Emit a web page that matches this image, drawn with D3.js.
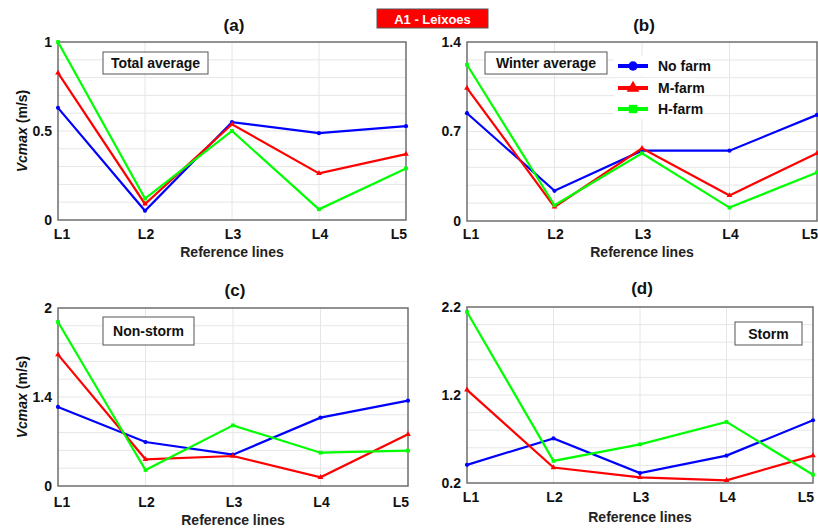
<!DOCTYPE html>
<html>
<head>
<meta charset="utf-8">
<script src="https://cdn.jsdelivr.net/npm/d3@7"></script>
<style>
  body { margin: 0; background: #fff; }
  svg { font-family: Arial, "Liberation Sans", sans-serif; font-weight: bold; }
</style>
</head>
<body>
<div id="chart"></div>
<script>
// Plot constants
const WIDTH = 818;
const HEIGHT = 529;

// Data
const refLines = ["L1", "L2", "L3", "L4", "L5"];
const seriesNames = ["No farm", "M-farm", "H-farm"];
const seriesColors = ["#0000ff", "#ff0000", "#00ff00"];

// (a) total average
const noFarmA = [0.63, 0.052, 0.55, 0.488, 0.527];
const mFarmA = [0.826, 0.09, 0.538, 0.262, 0.37];
const hFarmA = [1.0, 0.12, 0.5, 0.06, 0.29];
// (b) winter average
const noFarmB = [0.843, 0.236, 0.55, 0.55, 0.83];
const mFarmB = [1.04, 0.11, 0.568, 0.2, 0.53];
const hFarmB = [1.222, 0.123, 0.53, 0.105, 0.38];
// (c) non-storm
const noFarmC = [1.243, 0.692, 0.493, 1.075, 1.342];
const mFarmC = [2.066, 0.42, 0.472, 0.136, 0.813];
const hFarmC = [2.58, 0.252, 0.954, 0.524, 0.556];
// (d) storm
const noFarmD = [0.406, 0.707, 0.313, 0.511, 0.913];
const mFarmD = [1.258, 0.376, 0.264, 0.23, 0.511];
const hFarmD = [2.144, 0.451, 0.639, 0.894, 0.294];

// y tick values and labels
const yTicksA = [0, 0.5, 1], yLabelsA = ["0", "0.5", "1"];
const yTicksB = [0, 0.7, 1.4], yLabelsB = ["0", "0.7", "1.4"];
const yTicksC = [0, 1.4, 2.8], yLabelsC = ["0", "1.4", "2"];
const yTicksD = [0.2, 1.2, 2.2], yLabelsD = ["0.2", "1.2", "2.2"];

// panel layout
const panels = [
  { tag: "(a)", note: "Total average", series: [noFarmA, mFarmA, hFarmA], ticks: yTicksA, labels: yLabelsA,
    x0: 58, x1: 406, y0: 42, y1: 220, yTitle: true, box: [103, 52, 105, 22], titleY: 31, xlabY: 239, xTitleY: 257 },
  { tag: "(b)", note: "Winter average", series: [noFarmB, mFarmB, hFarmB], ticks: yTicksB, labels: yLabelsB,
    x0: 467, x1: 817, y0: 42, y1: 221, yTitle: false, box: [485, 52, 122, 22], titleY: 31, xlabY: 239, xTitleY: 257, legend: true },
  { tag: "(c)", note: "Non-storm", series: [noFarmC, mFarmC, hFarmC], ticks: yTicksC, labels: yLabelsC,
    x0: 58, x1: 408, y0: 308, y1: 486, yTitle: true, box: [103, 317, 91, 28], titleY: 296, xlabY: 507, xTitleY: 525 },
  { tag: "(d)", note: "Storm", series: [noFarmD, mFarmD, hFarmD], ticks: yTicksD, labels: yLabelsD,
    x0: 467, x1: 813, y0: 307, y1: 483, yTitle: false, box: [735, 322, 67, 23], titleY: 294, xlabY: 502, xTitleY: 522 },
];

const svg = d3.select("#chart").append("svg")
  .attr("width", WIDTH)
  .attr("height", HEIGHT);

const markerShapes = [d3.symbolCircle, d3.symbolTriangle, d3.symbolSquare];

panels.forEach((p) => {
  const g = svg.append("g");
  const x = d3.scalePoint().domain(refLines).range([p.x0, p.x1]);
  const lo = p.ticks[0], hi = p.ticks[p.ticks.length - 1];
  const y = d3.scaleLinear().domain([lo, hi]).range([p.y1, p.y0]);

  // grid: 10 horizontal divisions + vertical at each reference line
  const gridVals = d3.range(1, 10).map((i) => lo + (hi - lo) * i / 10);
  g.selectAll(".hgrid").data(gridVals).enter().append("line")
    .attr("x1", p.x0).attr("x2", p.x1)
    .attr("y1", (d) => y(d)).attr("y2", (d) => y(d))
    .attr("stroke", "#e6e6e6").attr("stroke-width", 1);
  g.selectAll(".vgrid").data(refLines.slice(1, -1)).enter().append("line")
    .attr("x1", (d) => x(d)).attr("x2", (d) => x(d))
    .attr("y1", p.y0).attr("y2", p.y1)
    .attr("stroke", "#e6e6e6").attr("stroke-width", 1);

  // frame
  g.append("rect")
    .attr("x", p.x0).attr("y", p.y0)
    .attr("width", p.x1 - p.x0).attr("height", p.y1 - p.y0)
    .attr("fill", "none").attr("stroke", "#6e6e6e").attr("stroke-width", 1.5);

  // axes (text only, the frame draws the lines)
  const yAxis = d3.axisLeft(y).tickValues(p.ticks).tickSize(0).tickPadding(6)
    .tickFormat((d, i) => p.labels[i]);
  g.append("g").attr("transform", `translate(${p.x0},0)`).call(yAxis)
    .call((a) => a.select(".domain").remove())
    .selectAll("text").attr("font-size", 14).attr("font-weight", "bold").attr("fill", "#111")
    .attr("font-family", "Arial, 'Liberation Sans', sans-serif");

  // x labels: first one nudged right, last one kept inside the frame
  const last = refLines.length - 1;
  g.selectAll(".xlab").data(refLines).enter().append("text")
    .attr("x", (d, i) => i === 0 ? x(d) + 4 : i === last ? x(d) + 1 : x(d) + 1)
    .attr("y", p.xlabY)
    .attr("text-anchor", (d, i) => i === last ? "end" : "middle")
    .attr("font-size", 14).attr("fill", "#111")
    .text((d) => d);

  g.append("text")
    .attr("x", (p.x0 + p.x1) / 2).attr("y", p.xTitleY)
    .attr("text-anchor", "middle").attr("font-size", 14).attr("fill", "#222")
    .text("Reference lines");

  // panel tag
  g.append("text")
    .attr("x", (p.x0 + p.x1) / 2 + 2).attr("y", p.titleY)
    .attr("text-anchor", "middle").attr("font-size", 17).attr("fill", "#111")
    .text(p.tag);

  // y title
  if (p.yTitle) {
    const t = g.append("text")
      .attr("transform", `translate(27,${(p.y0 + p.y1) / 2}) rotate(-90)`)
      .attr("text-anchor", "middle").attr("font-size", 14).attr("fill", "#111");
    t.append("tspan").attr("font-style", "italic").text("Vcmax");
    t.append("tspan").text(" (m/s)");
  }

  // series lines
  const line = d3.line().x((d, i) => x(refLines[i])).y((d) => y(d));
  p.series.forEach((vals, s) => {
    g.append("path").datum(vals)
      .attr("d", line)
      .attr("fill", "none")
      .attr("stroke", seriesColors[s])
      .attr("stroke-width", 2.2);
    g.selectAll(".m" + s).data(vals).enter().append("path")
      .attr("transform", (d, i) => `translate(${x(refLines[i])},${y(d)})`)
      .attr("d", d3.symbol().type(markerShapes[s]).size(14))
      .attr("fill", seriesColors[s]);
  });

  // note box
  const [bx, by, bw, bh] = p.box;
  g.append("rect").attr("x", bx).attr("y", by).attr("width", bw).attr("height", bh)
    .attr("fill", "#fff").attr("stroke", "#555").attr("stroke-width", 1);
  g.append("text").attr("x", bx + bw / 2).attr("y", by + bh / 2 + 5)
    .attr("text-anchor", "middle").attr("font-size", 14).attr("fill", "#111")
    .text(p.note);

  // legend
  if (p.legend) {
    const lg = g.append("g");
    const rowY = [66, 88, 109];
    seriesNames.forEach((name, s) => {
      lg.append("rect").attr("x", 614).attr("y", rowY[s] - 10).attr("width", 82).attr("height", 20).attr("fill", "#fff");
      lg.append("line").attr("x1", 618).attr("x2", 648).attr("y1", rowY[s]).attr("y2", rowY[s])
        .attr("stroke", seriesColors[s]).attr("stroke-width", 4);
      lg.append("path").attr("transform", `translate(633,${rowY[s]})`)
        .attr("d", d3.symbol().type(markerShapes[s]).size(70))
        .attr("fill", seriesColors[s]);
      lg.append("text").attr("x", 658).attr("y", rowY[s] + 5)
        .attr("font-size", 14).attr("fill", "#111").text(name);
    });
  }
});

// site label
svg.append("rect").attr("x", 377).attr("y", 9).attr("width", 111).attr("height", 19)
  .attr("fill", "#ff0000").attr("stroke", "#555").attr("stroke-width", 1);
svg.append("text").attr("x", 432.5).attr("y", 23.5).attr("text-anchor", "middle")
  .attr("font-size", 13).attr("fill", "#fff").text("A1 - Leixoes");
</script>
</body>
</html>
